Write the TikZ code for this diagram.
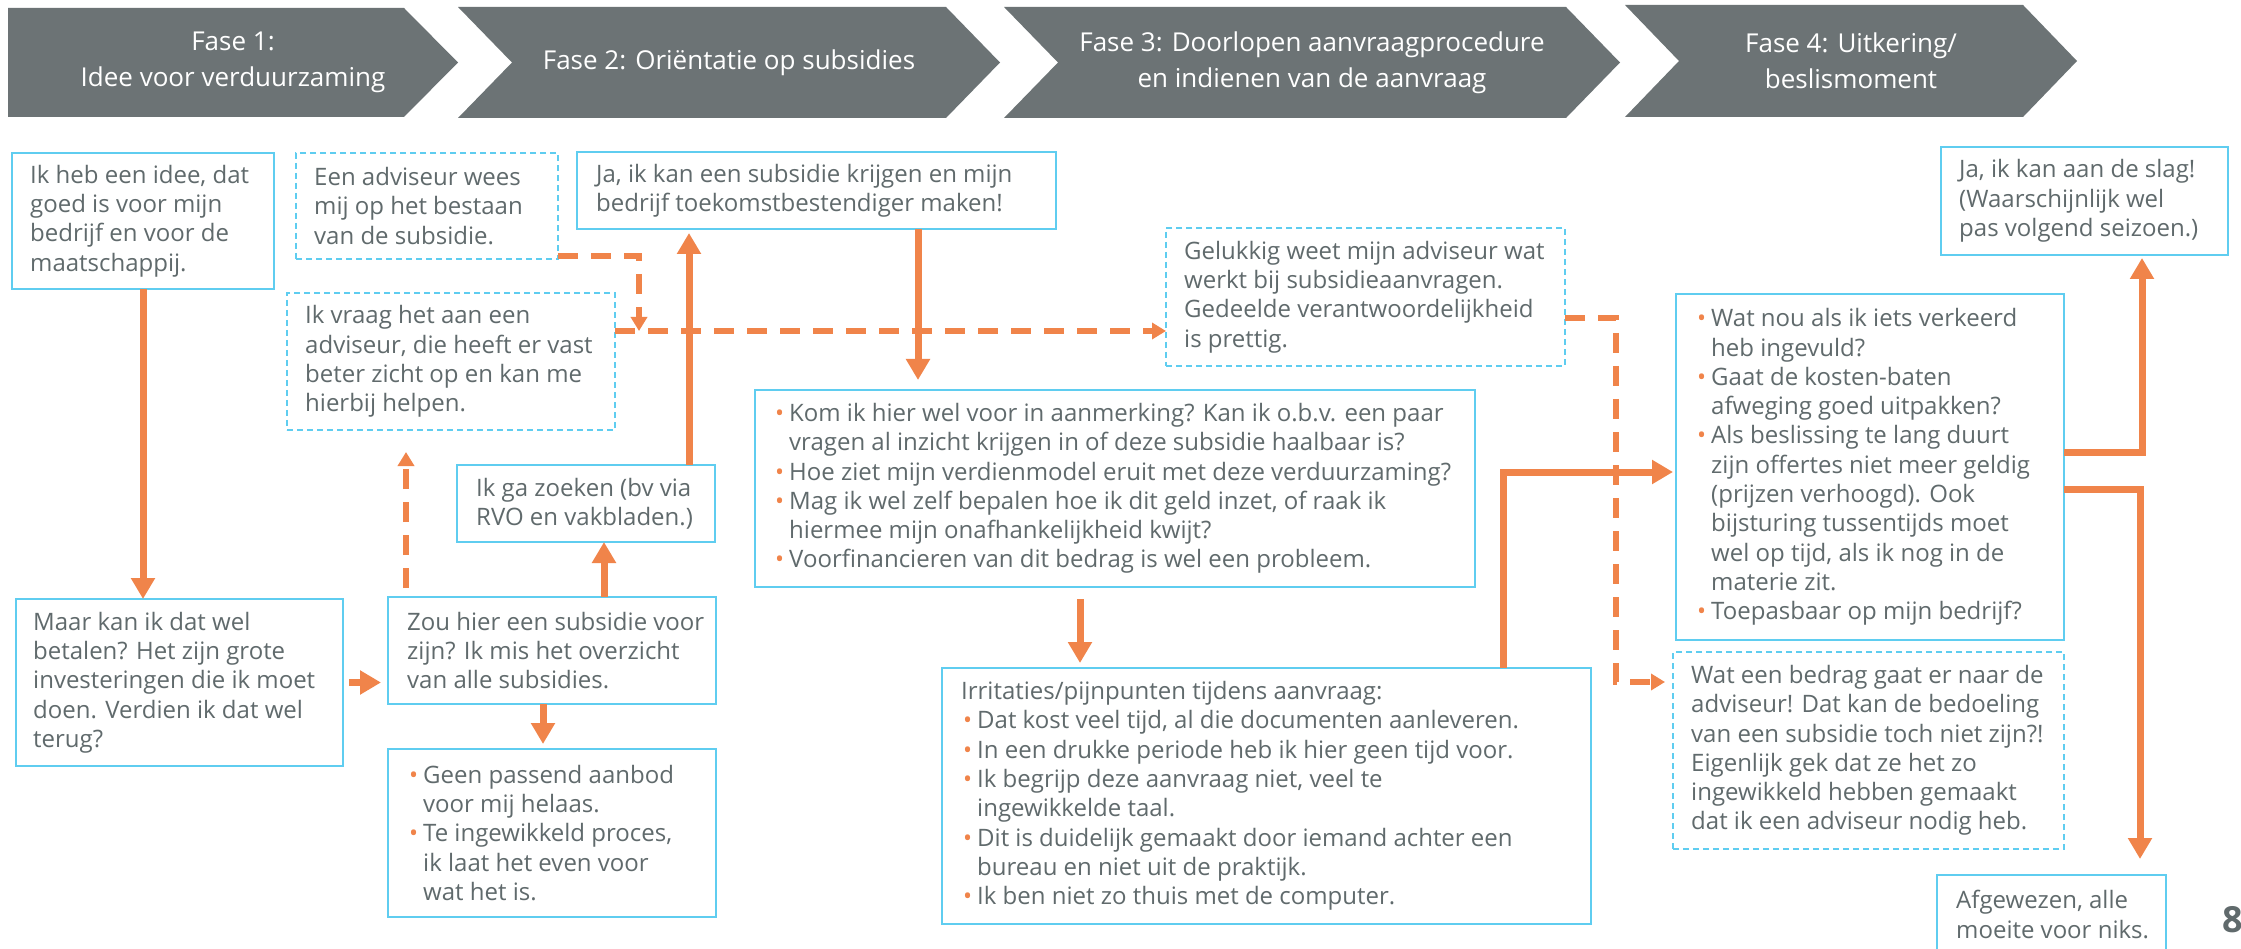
\documentclass[tikz,border=0pt]{standalone}
\usepackage{fontspec}
\setmainfont{Open Sans}
\usetikzlibrary{arrows.meta}
\definecolor{orng}{RGB}{240,132,74}
\definecolor{bblue}{RGB}{95,205,240}
\definecolor{tgray}{RGB}{96,106,108}
\definecolor{cgray}{RGB}{108,115,117}
\newcommand{\bul}{\makebox[14pt][l]{\textcolor{orng}{•}}}
\newcommand{\ind}{\hspace*{14pt}}
\begin{document}
\begin{tikzpicture}[x=1pt,y=-1pt,
  sbox/.style={draw=bblue, line width=2pt, anchor=north west, inner sep=0pt, outer sep=0pt},
  dbox/.style={sbox, dash pattern=on 6pt off 4pt},
  txt/.style={anchor=west, align=left, inner sep=0pt, text=tgray, font=\fontsize{24}{29.3}\selectfont},
  ph/.style={text=white, align=center, inner sep=0pt, font=\fontsize{26}{36}\selectfont},
  chev/.style={fill=cgray, draw=none},
  sarr/.style={draw=orng, line width=7pt, -{Triangle[length=21pt,width=23pt]}},
  darr/.style={draw=orng, line width=5.5pt, dash pattern=on 20pt off 13pt, -{Triangle[length=14pt,width=16pt]}}
]
\fill[white] (0,0) rectangle (2241,949);
\useasboundingbox (0,0) rectangle (2241,949);

% phase chevrons
\fill[chev] (8,8) -- (404,8) -- (458,62.5) -- (404,117) -- (8,117) -- cycle;
\fill[chev] (458,7) -- (946,7) -- (1000,62.5) -- (946,118) -- (458,118) -- (512,62.5) -- cycle;
\fill[chev] (1004,7) -- (1566,7) -- (1620,62.5) -- (1566,118) -- (1004,118) -- (1058,62.5) -- cycle;
\fill[chev] (1625,5) -- (2023,5) -- (2077,61) -- (2023,117) -- (1625,117) -- (1679,61) -- cycle;
\node[ph] (p1) at (233,62.5) {Fase 1:\\Idee voor verduurzaming};
\node[ph] (p2) at (729,62.5) {Fase 2: Oriëntatie op subsidies};
\node[ph] (p3) at (1312,62.5) {Fase 3: Doorlopen aanvraagprocedure\\en indienen van de aanvraag};
\node[ph] (p4) at (1851,61) {Fase 4: Uitkering/\\beslismoment};

% boxes
\node[sbox, minimum width=262pt, minimum height=136pt] (b1) at (12,153) {};
\node[dbox, minimum width=262pt, minimum height=106pt] (b2) at (296,153) {};
\node[sbox, minimum width=479pt, minimum height=77pt] (b3) at (577,152) {};
\node[dbox, minimum width=328pt, minimum height=137pt] (b4) at (287,293) {};
\node[dbox, minimum width=399pt, minimum height=138pt] (b5) at (1166,228) {};
\node[sbox, minimum width=720pt, minimum height=197pt] (b6) at (755,390) {};
\node[sbox, minimum width=327pt, minimum height=167pt] (b7) at (16,599) {};
\node[sbox, minimum width=328pt, minimum height=107pt] (b8) at (388,597) {};
\node[sbox, minimum width=258pt, minimum height=77pt] (b9) at (457,465) {};
\node[sbox, minimum width=328pt, minimum height=168pt] (b10) at (388,749) {};
\node[sbox, minimum width=649pt, minimum height=256pt] (b11) at (942,668) {};
\node[sbox, minimum width=388pt, minimum height=346pt] (b12) at (1676,294) {};
\node[dbox, minimum width=391pt, minimum height=197pt] (b13) at (1673,652) {};
\node[sbox, minimum width=287pt, minimum height=108pt] (b14) at (1941,147) {};
\node[sbox, minimum width=229pt, minimum height=79pt] (b15) at (1937,875) {};

% texts
\node[txt] (t1) at ([xshift=18pt]b1.west) {Ik heb een idee, dat\\goed is voor mijn\\bedrijf en voor de\\maatschappij.};
\node[txt] (t2) at ([xshift=18pt]b2.west) {Een adviseur wees\\mij op het bestaan\\van de subsidie.};
\node[txt] (t3) at ([xshift=19pt]b3.west) {Ja, ik kan een subsidie krijgen en mijn\\bedrijf toekomstbestendiger maken!};
\node[txt] (t4) at ([xshift=18pt]b4.west) {Ik vraag het aan een\\adviseur, die heeft er vast\\beter zicht op en kan me\\hierbij helpen.};
\node[txt] (t5) at ([xshift=18pt]b5.west) {Gelukkig weet mijn adviseur wat\\werkt bij subsidieaanvragen.\\Gedeelde verantwoordelijkheid\\is prettig.};
\node[txt] (t6) at ([xshift=20pt]b6.west) {\bul Kom ik hier wel voor in aanmerking? Kan ik o.b.v. een paar\\\ind vragen al inzicht krijgen in of deze subsidie haalbaar is?\\\bul Hoe ziet mijn verdienmodel eruit met deze verduurzaming?\\\bul Mag ik wel zelf bepalen hoe ik dit geld inzet, of raak ik\\\ind hiermee mijn onafhankelijkheid kwijt?\\\bul Voorfinancieren van dit bedrag is wel een probleem.};
\node[txt] (t7) at ([xshift=17pt]b7.west) {Maar kan ik dat wel\\betalen? Het zijn grote\\investeringen die ik moet\\doen. Verdien ik dat wel\\terug?};
\node[txt] (t8) at ([xshift=19pt]b8.west) {Zou hier een subsidie voor\\zijn? Ik mis het overzicht\\van alle subsidies.};
\node[txt] (t9) at ([xshift=19pt]b9.west) {Ik ga zoeken (bv via\\RVO en vakbladen.)};
\node[txt] (t10) at ([xshift=21pt]b10.west) {\bul Geen passend aanbod\\\ind voor mij helaas.\\\bul Te ingewikkeld proces,\\\ind ik laat het even voor\\\ind wat het is.};
\node[txt] (t11) at ([xshift=19pt]b11.west) {Irritaties/pijnpunten tijdens aanvraag:\\\hspace*{2pt}\bul Dat kost veel tijd, al die documenten aanleveren.\\\hspace*{2pt}\bul In een drukke periode heb ik hier geen tijd voor.\\\hspace*{2pt}\bul Ik begrijp deze aanvraag niet, veel te\\\hspace*{2pt}\ind ingewikkelde taal.\\\hspace*{2pt}\bul Dit is duidelijk gemaakt door iemand achter een\\\hspace*{2pt}\ind bureau en niet uit de praktijk.\\\hspace*{2pt}\bul Ik ben niet zo thuis met de computer.};
\node[txt] (t12) at ([xshift=21pt]b12.west) {\bul Wat nou als ik iets verkeerd\\\ind heb ingevuld?\\\bul Gaat de kosten-baten\\\ind afweging goed uitpakken?\\\bul Als beslissing te lang duurt\\\ind zijn offertes niet meer geldig\\\ind (prijzen verhoogd). Ook\\\ind bijsturing tussentijds moet\\\ind wel op tijd, als ik nog in de\\\ind materie zit.\\\bul Toepasbaar op mijn bedrijf?};
\node[txt] (t13) at ([xshift=18pt]b13.west) {Wat een bedrag gaat er naar de\\adviseur! Dat kan de bedoeling\\van een subsidie toch niet zijn?!\\Eigenlijk gek dat ze het zo\\ingewikkeld hebben gemaakt\\dat ik een adviseur nodig heb.};
\node[txt] (t14) at ([xshift=18pt]b14.west) {Ja, ik kan aan de slag!\\(Waarschijnlijk wel\\pas volgend seizoen.)};
\node[txt] (t15) at ([xshift=19pt]b15.west) {Afgewezen, alle\\moeite voor niks.};

\node[anchor=west, inner sep=0pt, text=tgray, font=\fontsize{36}{36}\selectfont\bfseries] (pg) at (2222,920) {8};

% helper coordinates
\coordinate (x3) at (604,0);
\coordinate (x4) at (689,0);
\coordinate (x5) at (406,0);
\coordinate (x6) at (543,0);
\coordinate (x7) at (918,0);
\coordinate (x8) at (639,0);
\coordinate (y8) at (0,256);
\coordinate (y9) at (0,331);
\coordinate (x10) at (1616,0);
\coordinate (y10a) at (0,318);
\coordinate (y10b) at (0,682);
\coordinate (x11) at (1503,0);
\coordinate (y11) at (0,472);
\coordinate (x12) at (1080,0);
\coordinate (x13) at (2142,0);
\coordinate (y13) at (0,452);
\coordinate (x14) at (2140,0);
\coordinate (y14) at (0,489);

% dashed connectors
\draw[darr] (b4.east |- y9) -- (b5.west |- y9);
\draw[darr] (b2.east |- y8) -| (x8 |- y9);
\draw[darr] ([yshift=9pt]b8.north -| x5) -- ([yshift=-22pt]b4.south -| x5);
\draw[darr] (b5.east |- y10a) -| (x10 |- y10b) -- ([xshift=-8pt]b13.west |- y10b);

% solid connectors
\draw[sarr] (b1.south) -- (b1.south |- b7.north);
\draw[sarr] ([xshift=6pt]b7.east) -- ([xshift=-7pt]b7.east -| b8.west);
\draw[sarr] (b8.north -| x3) -- (b9.south -| x3);
\draw[sarr] (b9.north -| x4) -- ([yshift=-4pt]b3.south -| x4);
\draw[sarr] (b8.south -| x6) -- ([yshift=5pt]b10.north -| x6);
\draw[sarr] (b3.south -| x7) -- ([yshift=10pt]b6.north -| x7);
\draw[sarr] ([yshift=-12pt]b6.south -| x12) -- ([yshift=5pt]b11.north -| x12);
\draw[sarr] (b11.north -| x11) |- ([xshift=-3pt]b12.west |- y11);
\draw[sarr] (b12.east |- y13) -| ([yshift=-3pt]b14.south -| x13);
\draw[sarr] (b12.east |- y14) -| ([yshift=16pt]b15.north -| x14);
\end{tikzpicture}
\end{document}
